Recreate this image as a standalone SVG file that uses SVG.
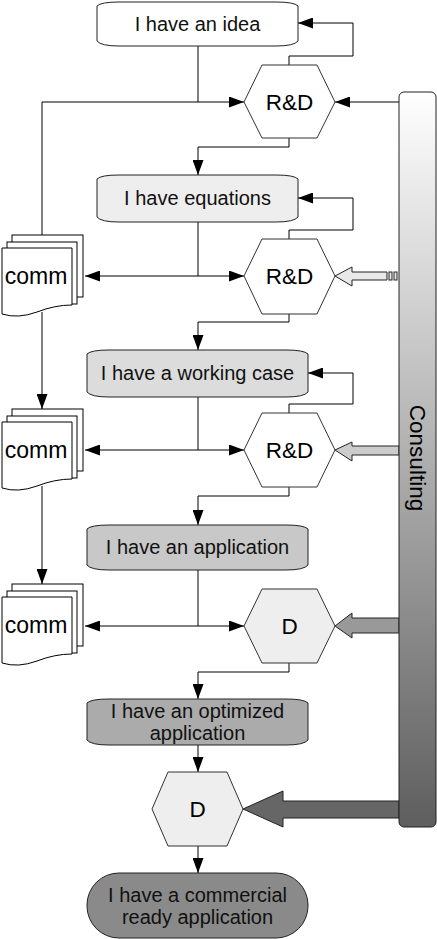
<svg xmlns="http://www.w3.org/2000/svg" width="437" height="939" viewBox="0 0 437 939">
<style>
.t{font-family:"Liberation Sans",Arial,sans-serif;font-size:20px;fill:#111;text-anchor:middle}
.h{font-family:"Liberation Sans",Arial,sans-serif;font-size:22.5px;fill:#000;text-anchor:middle}
.c{font-family:"Liberation Sans",Arial,sans-serif;font-size:23px;fill:#000;text-anchor:middle}
.box{stroke:#222;stroke-width:1}
.hex{stroke:#333;stroke-width:1}
.ln{fill:none;stroke:#000;stroke-width:1}
.doc{fill:#fff;stroke:#000;stroke-width:1}
.blk{stroke:#222;stroke-width:1}
</style>
<defs>
<marker id="ah" markerUnits="userSpaceOnUse" markerWidth="15" markerHeight="11" refX="15" refY="5.5" orient="auto">
<path d="M0,0 L15,5.5 L0,11 z" fill="#000"/>
</marker>
<linearGradient id="cg" x1="0" y1="0" x2="0" y2="1">
<stop offset="0" stop-color="#ffffff"/>
<stop offset="1" stop-color="#5e5e5e"/>
</linearGradient>
<g id="comm">
<rect x="12" y="0" width="71" height="62" class="doc"/>
<rect x="7" y="7" width="70" height="62" class="doc"/>
<path d="M2,13 H72 V70 Q55,70 37,77 Q18,84 2,79 Z" class="doc"/>
<text x="36" y="49" class="c">comm</text>
</g>
</defs>

<g id="connectors">
<path d="M198,46 V102" class="ln"/>
<path d="M42,235 V102 H244" class="ln" marker-end="url(#ah)"/>
<path d="M289,65 V56 H353 V23 H298" class="ln" marker-end="url(#ah)"/>
<path d="M289,138 V147 H198 V175" class="ln" marker-end="url(#ah)"/>
<path d="M399,102 H335" class="ln" marker-end="url(#ah)"/>
<path d="M198,222 V276" class="ln"/>
<path d="M198,276 H85" class="ln" marker-end="url(#ah)"/>
<path d="M198,276 H244" class="ln" marker-end="url(#ah)"/>
<path d="M289,239 V230 H353 V198 H298" class="ln" marker-end="url(#ah)"/>
<path d="M289,314 V322 H198 V350" class="ln" marker-end="url(#ah)"/>
<path d="M42,312 V409" class="ln" marker-end="url(#ah)"/>
<path d="M198,397 V450" class="ln"/>
<path d="M198,450 H85" class="ln" marker-end="url(#ah)"/>
<path d="M198,450 H244" class="ln" marker-end="url(#ah)"/>
<path d="M289,413 V404 H353 V373 H308" class="ln" marker-end="url(#ah)"/>
<path d="M289,487 V496 H198 V525" class="ln" marker-end="url(#ah)"/>
<path d="M42,486 V584" class="ln" marker-end="url(#ah)"/>
<path d="M198,570 V626" class="ln"/>
<path d="M198,626 H85" class="ln" marker-end="url(#ah)"/>
<path d="M198,626 H244" class="ln" marker-end="url(#ah)"/>
<path d="M289,663 V672 H198 V699" class="ln" marker-end="url(#ah)"/>
<path d="M198,745 V772" class="ln" marker-end="url(#ah)"/>
<path d="M198,846 V873" class="ln" marker-end="url(#ah)"/>
<polygon points="335,276 352,267 352,272 387,272 387,280 352,280 352,286" fill="#e8e8e8" class="blk"/>
<rect x="389" y="272" width="3" height="8" fill="#e8e8e8" class="blk"/>
<rect x="394" y="272" width="3" height="8" fill="#e8e8e8" class="blk"/>
<polygon points="335,450 352,442 352,446 399,446 399,455 352,455 352,461" fill="#cccccc" class="blk"/>
<polygon points="335,626 352,613 352,618 399,618 399,633 352,633 352,638" fill="#999999" class="blk"/>
<polygon points="243,809 283,791 283,801 399,801 399,818 283,818 283,827" fill="#666666" class="blk"/>
</g>

<g id="consulting">
<rect x="399" y="92" width="37" height="735" rx="5" fill="url(#cg)" stroke="#222"/>
<text transform="translate(418,458) rotate(90)" x="0" y="8" class="h">Consulting</text>
</g>

<g id="idea">
<path d="M119,2 H276 Q294,2 298,6 V41 Q294,46 276,46 H119 Q101,46 97,41 V6 Q101,2 119,2 Z" fill="#fff" class="box"/>
<text x="197.5" y="31" class="t">I have an idea</text>
</g>
<g id="rd1">
<polygon points="244,102 262,65 317,65 335,102 317,138 262,138" fill="#fff" class="hex"/>
<text x="289.5" y="110" class="h">R&amp;D</text>
</g>
<g id="equations">
<path d="M119,175 H276 Q294,175 298,179 V217 Q294,222 276,222 H119 Q101,222 97,217 V179 Q101,175 119,175 Z" fill="#eeeeee" class="box"/>
<text x="197.5" y="205" class="t">I have equations</text>
</g>
<g id="rd2">
<polygon points="244,276 262,239 317,239 335,276 317,314 262,314" fill="#fff" class="hex"/>
<text x="289.5" y="284" class="h">R&amp;D</text>
</g>
<g id="comm1"><use href="#comm" transform="translate(0,235)"/></g>
<g id="workingcase">
<path d="M109,350 H286 Q304,350 308,354 V392 Q304,397 286,397 H109 Q91,397 87,392 V354 Q91,350 109,350 Z" fill="#dcdcdc" class="box"/>
<text x="197.5" y="380" class="t">I have a working case</text>
</g>
<g id="rd3">
<polygon points="244,450 262,413 317,413 335,450 317,487 262,487" fill="#fff" class="hex"/>
<text x="289.5" y="458" class="h">R&amp;D</text>
</g>
<g id="comm2"><use href="#comm" transform="translate(0,409)"/></g>
<g id="application">
<path d="M109,525 H286 Q304,525 308,529 V565 Q304,570 286,570 H109 Q91,570 87,565 V529 Q91,525 109,525 Z" fill="#c8c8c8" class="box"/>
<text x="197.5" y="554" class="t">I have an application</text>
</g>
<g id="d1">
<polygon points="244,626 262,589 317,589 335,626 317,663 262,663" fill="#eeeeee" class="hex"/>
<text x="289.5" y="634" class="h">D</text>
</g>
<g id="comm3"><use href="#comm" transform="translate(0,584)"/></g>
<g id="optimized">
<path d="M109,699 H286 Q304,699 308,703 V740 Q304,745 286,745 H109 Q91,745 87,740 V703 Q91,699 109,699 Z" fill="#ababab" class="box"/>
<text x="197.5" y="718" class="t">I have an optimized</text>
<text x="197.5" y="740" class="t">application</text>
</g>
<g id="d2">
<polygon points="152,809 168,772 227,772 243,809 227,846 168,846" fill="#eeeeee" class="hex"/>
<text x="197.5" y="817" class="h">D</text>
</g>
<g id="commercial">
<rect x="87" y="873" width="221" height="65" rx="32" ry="32" fill="#8a8a8a" class="box"/>
<text x="197.5" y="902" class="t">I have a commercial</text>
<text x="197.5" y="924" class="t">ready application</text>
</g>
</svg>
